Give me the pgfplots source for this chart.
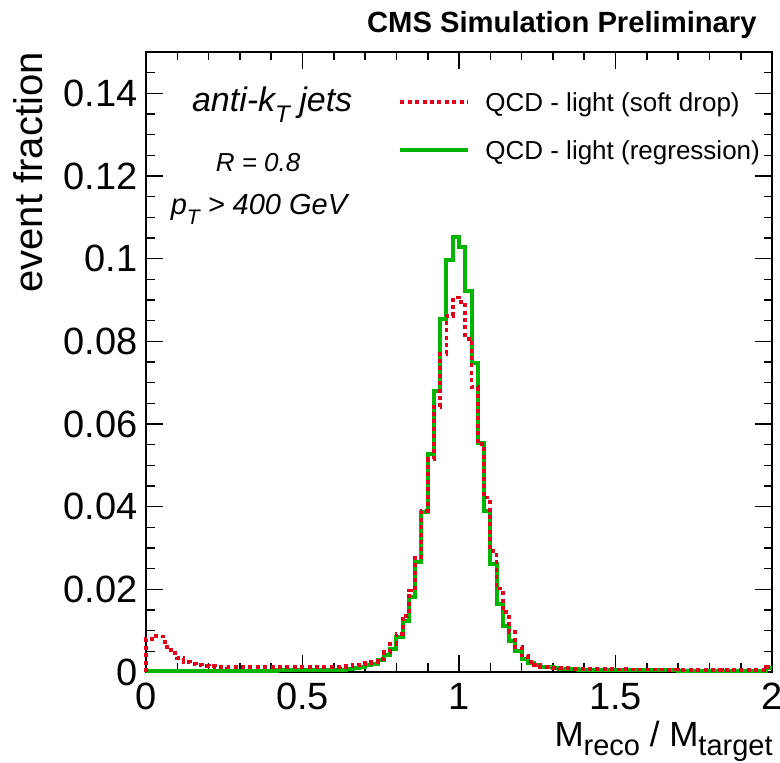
\documentclass[border=0pt]{standalone}
\usepackage{pgfplots}
\usepackage{pgfplotstable}
\pgfplotsset{compat=1.18}
\usepackage{fontspec}
\setmainfont{Liberation Sans}
\definecolor{sdred}{RGB}{228,0,28}
\definecolor{rggreen}{RGB}{0,180,0}
\pgfplotstableread{
x r g
0.00 0 0
0.00 0.0080 0.0003
0.02 0.0088 0.0003
0.04 0.0086 0.0003
0.06 0.0061 0.0003
0.08 0.0045 0.0003
0.10 0.0033 0.0003
0.12 0.0025 0.0003
0.14 0.0020 0.0003
0.16 0.0017 0.0003
0.18 0.0015 0.0003
0.20 0.0014 0.0003
0.22 0.0013 0.0003
0.24 0.0013 0.0003
0.26 0.0012 0.0003
0.28 0.0012 0.0003
0.30 0.0012 0.0003
0.32 0.0012 0.0003
0.34 0.0012 0.0003
0.36 0.0012 0.0003
0.38 0.0012 0.0003
0.40 0.0012 0.0003
0.42 0.0012 0.0004
0.44 0.0012 0.0004
0.46 0.0012 0.0004
0.48 0.0012 0.0004
0.50 0.0012 0.0004
0.52 0.0012 0.0004
0.54 0.0012 0.0005
0.56 0.0012 0.0005
0.58 0.0012 0.0005
0.60 0.0012 0.0006
0.62 0.0013 0.0006
0.64 0.0014 0.0007
0.66 0.0016 0.0009
0.68 0.0018 0.0012
0.70 0.0021 0.0016
0.72 0.0025 0.0020
0.74 0.0032 0.0028
0.76 0.0048 0.0040
0.78 0.0068 0.0056
0.80 0.0092 0.0084
0.82 0.0136 0.0124
0.84 0.0197 0.0181
0.86 0.0277 0.0265
0.88 0.0390 0.0386
0.90 0.0515 0.0528
0.92 0.0641 0.0680
0.94 0.0770 0.0855
0.96 0.0862 0.0997
0.98 0.0906 0.1053
1.00 0.0896 0.1028
1.02 0.0806 0.0921
1.04 0.0689 0.0748
1.06 0.0552 0.0554
1.08 0.0422 0.0390
1.10 0.0293 0.0261
1.12 0.0202 0.0165
1.14 0.0145 0.0112
1.16 0.0096 0.0074
1.18 0.0060 0.0050
1.20 0.0040 0.0031
1.22 0.0025 0.0022
1.24 0.0017 0.0016
1.26 0.0013 0.0013
1.28 0.0011 0.0011
1.30 0.0010 0.0009
1.32 0.0009 0.0008
1.34 0.0009 0.0007
1.36 0.0008 0.0007
1.38 0.0008 0.0006
1.40 0.0008 0.0006
1.42 0.0007 0.0006
1.44 0.0007 0.0005
1.46 0.0007 0.0005
1.48 0.0007 0.0005
1.50 0.0006 0.0005
1.52 0.0007 0.0005
1.54 0.0006 0.0004
1.56 0.0006 0.0004
1.58 0.0006 0.0004
1.60 0.0006 0.0004
1.62 0.0006 0.0004
1.64 0.0006 0.0004
1.66 0.0005 0.0004
1.68 0.0006 0.0004
1.70 0.0005 0.0003
1.72 0.0005 0.0003
1.74 0.0005 0.0003
1.76 0.0005 0.0003
1.78 0.0005 0.0003
1.80 0.0005 0.0003
1.82 0.0005 0.0003
1.84 0.0004 0.0003
1.86 0.0005 0.0003
1.88 0.0004 0.0003
1.90 0.0004 0.0003
1.92 0.0004 0.0003
1.94 0.0004 0.0003
1.96 0.0004 0.0003
1.98 0.0012 0.0010
2.00 0.0012 0.0010
}\histdata
\begin{document}
\begin{tikzpicture}
\begin{axis}[
  scale only axis, width=313pt, height=310pt,
  xmin=0, xmax=2, ymin=0, ymax=0.15,
  clip=false,
  axis line style={line width=1pt},
  tick align=inside, tick pos=both,
  xtick={0,0.5,1,1.5,2},
  minor xtick={0,0.1,...,2.0},
  ytick={0,0.02,0.04,0.06,0.08,0.1,0.12,0.14},
  minor ytick={0,0.005,...,0.15},
  scaled y ticks=false, scaled x ticks=false,
  /pgf/number format/assume math mode=true,
  /pgf/number format/fixed, /pgf/number format/precision=2,
  major tick length=8.5pt, minor tick length=4.25pt,
  every tick/.style={black, line width=0.8pt},
  tick label style={font=\fontsize{19}{19}\selectfont, inner sep=0pt},
  yticklabel style={xshift=-4pt},
  xticklabel style={yshift=-5.5pt},
  xlabel={M\raisebox{-0.25em}{\fontsize{14.5}{14.5}\selectfont reco} / M\raisebox{-0.25em}{\fontsize{14.5}{14.5}\selectfont target}},
  xlabel style={font=\fontsize{17.5}{17.5}\selectfont, at={(rel axis cs:1,0)}, anchor=base east, yshift=-37.4pt, xshift=0.5pt, inner sep=0pt},
  ylabel={event fraction},
  ylabel style={font=\fontsize{20}{20}\selectfont, at={([xshift=-51.5pt]rel axis cs:0,1)}, anchor=base east, inner sep=0pt},
  legend style={draw=none, fill=none, at={(axis cs:0.805,0.1406)}, anchor=north west,
    inner sep=0pt, row sep=13pt, column sep=7.5pt,
    font=\fontsize{13}{13}\selectfont,
    nodes={inner sep=0pt, text height=10pt, text depth=1pt}},
  legend cell align=left,
  reverse legend,
  legend image code/.code={\draw[#1] (0pt,0pt) -- (34pt,0pt);},
]
\coordinate (BL) at (rel axis cs:0,0);
\coordinate (TR) at (rel axis cs:1,1);
\addplot[rggreen, line width=2pt, const plot] table[x=x, y=g] {\histdata};
\addlegendentry{QCD - light (regression)}
\addplot[sdred, line width=1.9pt, dash pattern=on 2pt off 1.7pt, const plot] table[x=x, y=r] {\histdata};
\addlegendentry{QCD - light (soft drop)}
\node[anchor=base east, font=\bfseries\fontsize{14.6}{14.6}\selectfont, inner sep=0pt] at (axis cs:1.952,0.1546) {CMS Simulation Preliminary};
\node[anchor=base, font=\itshape\fontsize{17}{17}\selectfont, inner sep=0pt] at (axis cs:0.403,0.1355) {anti-k\raisebox{-0.3em}{\fontsize{12}{12}\selectfont T} jets};
\node[anchor=base, font=\itshape\fontsize{13}{13}\selectfont, inner sep=0pt] at (axis cs:0.358,0.1210) {R = 0.8};
\node[anchor=base, font=\itshape\fontsize{14.5}{14.5}\selectfont, inner sep=0pt] at (axis cs:0.361,0.1106) {p\raisebox{-0.35em}{\fontsize{10.5}{10.5}\selectfont T} > 400 GeV};
\end{axis}
\pgfresetboundingbox
\useasboundingbox ([shift={(-73pt,-45.5pt)}]BL) rectangle ([shift={(4pt,26pt)}]TR);
\end{tikzpicture}
\end{document}
